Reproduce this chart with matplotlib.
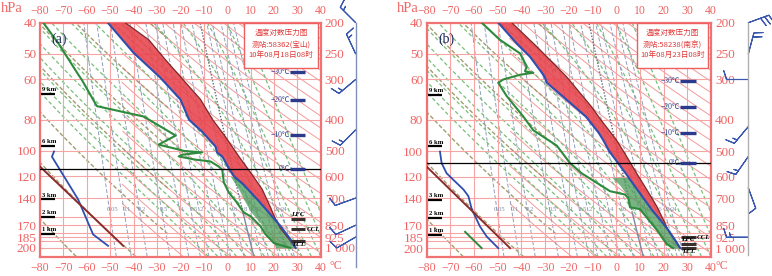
import numpy as np
import matplotlib.pyplot as plt
from matplotlib.ticker import FixedLocator, NullFormatter
from matplotlib.patches import Rectangle

plt.rcParams['font.family'] = ['Liberation Serif', 'Noto Sans CJK SC', 'DejaVu Sans']

W, H = 772, 276

# =========================
# AXIS SETUP
# =========================
t_ticks = list(range(-80, 41, 10))
t_labels = [str(t).replace('-', '\u2212') for t in t_ticks]
p_ticks = [200, 250, 300, 400, 500, 600, 700, 850, 925, 1000]
p_right = ['200', '250', '300', '400', '500', '600', '700', '850', '925', '1 000']
p_left = ['40', '50', '60', '80', '100', '120', '140', '170', '185', '200']
p_extra = [800, 900, 950]
P_TOP, P_BOT = 200, 1063

# background families
theta_olive = [205, 230, 255, 280, 305, 330, 355, 380]
theta_red = list(range(250, 530, 10))
moist_start = list(range(-8, 50, 4))
mix_w = [0.05, 0.1, 0.2, 0.5, 1, 1.5, 2, 3, 4, 6, 8, 10, 12, 16, 20, 24]
mix_lbl = ['0.05', '0.1', '0.2', '0.5', '1', '1.5', '2', '3', '4', '6', '8', '10', '12', '16', '20', '24']

# =========================
# PANEL (a) DATA  58362 宝山
# =========================
a_T_p = [200, 248, 296, 346, 364, 400, 436, 484, 506, 520, 564, 600, 636, 707, 778, 857, 941, 1000]
a_T = [-51, -40, -28.6, -20, -18.7, -16.3, -10.7, -5, -4.3, -2.1, 0.6, 3, 7, 12.9, 17.9, 22.9, 27.1, 29.3]
a_par_p = [200, 226, 260, 294, 346, 400, 450, 520, 583, 658, 750, 800, 870, 950, 1000]
a_par = [-43.6, -33.5, -26.5, -20, -11.4, -6.2, -0.9, 5, 10, 15, 18.6, 20.2, 22.8, 27, 29.3]
a_Td_p = [200, 232, 290, 301, 363, 391, 422, 448, 478, 495, 500, 505, 514, 520, 532, 539, 559, 572,
          626, 673, 714, 777, 797, 857, 907, 966, 1000]
a_Td = [-78.6, -72.1, -63.6, -62.1, -55.7, -35.7, -28, -22, -29.3, -20.7, -18.6, -10.7, -19.3, -20.7,
        -13.6, -7.1, -3.6, -2.1, -1.4, 0.7, 3.6, 7.1, 10, 14.3, 16.4, 20, 27]
a_fill_p = [600, 659, 707, 770, 838, 900, 966, 1000]
a_fill_T = [1.4, 5, 7.1, 10, 14.3, 16.4, 20, 20.7]
a_aux_blue_p = [502, 521, 707, 908, 985]
a_aux_blue = [-74, -74.9, -63.7, -57.3, -50.9]
a_aux_red_p = [559, 985]
a_aux_red = [-80, -44.4]
a_green2_p = []
a_green2 = []
a_iso_T = ['\u221230\u2103', '\u221220\u2103', '\u221210\u2103', '0\u2103']
a_iso_p = [284, 348, 447, 568]
a_km = ['9 km', '6 km', '3 km', '2 km', '1 km']
a_km_p = [333, 481, 707, 800, 903]
a_lev = ['LFC', 'CCL', 'LCL']
a_lev_p = [812, 875, 952]
a_title = ['温度对数压力图', '测站:58362(宝山)', '10年08月18日08时']
a_barb_p = [200, 250, 300, 430, 700, 850, 925]
a_barb_dir = [315, 335, 230, 225, 250, 245, 240]
a_barb_spd = [6, 6, 6, 6, 4, 4, 4]

# =========================
# PANEL (b) DATA  58238 南京
# =========================
b_T_p = [200, 232, 255, 290, 296, 307, 347, 391, 438, 461, 500, 538, 592, 645, 700, 760, 816, 880, 940, 1000]
b_T = [-49.8, -42, -36.4, -30.8, -30.1, -29.3, -20.9, -12.8, -7.5, -5.6, -3, 0.2, 4.4, 8, 11.5, 15, 18.5, 22, 24.7, 27]
b_par_p = [200, 237, 294, 364, 400, 461, 520, 586, 659, 742, 828, 880, 950, 1000]
b_par = [-44.1, -33.6, -21, -10.5, -6.5, 0, 4.4, 8.6, 12.9, 17.1, 20.3, 21.9, 25, 27]
b_Td_p = [200, 226, 249, 273, 283, 286, 290, 300, 307, 338, 391, 431, 481, 545, 586, 666, 682, 700,
          747, 757, 877, 970, 1000]
b_Td = [-56.8, -49.1, -40.6, -37.8, -38.5, -35, -40.6, -47.7, -49.8, -46.2, -39.2, -35, -25.1, -19.5,
        -14.6, -2.6, 3.7, 5.1, 5.8, 10, 17.1, 21.3, 24]
b_fill_p = [603, 639, 682, 700, 747, 757, 877, 970, 1000]
b_fill_T = [-1.9, 1.6, 4.4, 5.1, 5.8, 10, 17.1, 21.3, 23]
b_aux_blue_p = [502, 545, 586, 658, 690, 757, 857, 920, 1000]
b_aux_blue = [-74.4, -73.7, -71.6, -64.5, -62.4, -61, -57.5, -54.7, -49.8]
b_aux_red_p = [559, 1000]
b_aux_red = [-80, -44.8]
b_green2_p = [890, 1000]
b_green2 = [-63.8, -56.8]
b_iso_T = ['\u221230\u2103', '\u221220\u2103', '\u221210\u2103', '0\u2103']
b_iso_p = [304, 365, 438, 545]
b_km = ['9 km', '6 km', '3 km', '2 km', '1 km']
b_km_p = [335, 483, 707, 806, 908]
b_lev = ['CCL', 'LFC', 'LCL']
b_lev_p = [926, 970, 1000]
b_title = ['温度对数压力图', '测站:58238(南京)', '10年08月23日08时']
b_barb_p = [200, 250, 300, 420, 520, 650, 925]
b_barb_dir = [70, 15, 270, 220, 215, 160, 270]
b_barb_spd = [12, 8, 4, 6, 6, 4, 6]

# =========================
# COLOURS
# =========================
RED_TXT = '#f06464'
GRID = '#f6a5a5'
FRAME = '#f07272'
BLUE = '#2d4fae'
NAVY = '#2b3a8c'

pp = np.geomspace(P_BOT, P_TOP, 240)


def dry_line(theta):
    return theta * (pp / 1000.0) ** 0.2857 - 273.15


def mix_line(w):
    e = w * pp / (622.0 + w)
    l = np.log(e / 6.112)
    return 243.5 * l / (17.67 - l)


def dTdp(T, p):
    tc = T - 273.15
    es = 6.112 * np.exp(17.67 * tc / (tc + 243.5))
    rs = 0.622 * es / (p - es)
    return (287.0 * T + 2.5e6 * rs) / (p * (1004.0 + 2.5e6 ** 2 * rs * 0.622 / (287.0 * T ** 2)))


def moist_line(t0):
    T = t0 + 273.15
    out = [T]
    for i in range(1, len(pp)):
        p = pp[i - 1]
        dp = pp[i] - p
        k1 = dTdp(T, p)
        k2 = dTdp(T + k1 * dp, p + dp)
        T = T + 0.5 * (k1 + k2) * dp
        out.append(T)
    return np.array(out) - 273.15


def on_log(p_src, v_src, p_new):
    return np.interp(np.log(p_new), np.log(p_src), v_src)


fig = plt.figure(figsize=(W / 100, H / 100), dpi=100)


def px_axes(x0, y0, x1, y1):
    return fig.add_axes([x0 / W, 1 - y1 / H, (x1 - x0) / W, (y1 - y0) / H])


def draw_panel(ax, tag, T_p, T, par_p, par, Td_p, Td, fill_p, fill_T,
               aux_b_p, aux_b, aux_r_p, aux_r, g2_p, g2, iso_T, iso_p,
               km, km_p, lev, lev_p, title, box_x0, ccl_right):
    ax.set_yscale('log')
    ax.set_xlim(-80, 40)
    ax.set_ylim(P_BOT, P_TOP)
    ax.set_xticks(t_ticks)
    ax.set_xticklabels(t_labels)
    ax.yaxis.set_major_locator(FixedLocator(p_ticks))
    ax.yaxis.set_minor_locator(FixedLocator(p_extra))
    ax.yaxis.set_minor_formatter(NullFormatter())
    ax.set_yticklabels(p_left)
    ax.tick_params(axis='x', which='both', length=0, top=True, labeltop=True,
                   labelsize=8.5, colors=RED_TXT, pad=4)
    ax.tick_params(axis='y', which='both', length=0, labelsize=9.5, colors=RED_TXT, pad=2.5)
    ax.grid(True, which='both', color=GRID, lw=0.8, zorder=0)
    for s in ax.spines.values():
        s.set_color(FRAME)
        s.set_linewidth(1.6)

    right = ax.twinx()
    right.set_yscale('log')
    right.set_ylim(P_BOT, P_TOP)
    right.yaxis.set_major_locator(FixedLocator(p_ticks))
    right.yaxis.set_minor_locator(FixedLocator([]))
    right.set_yticklabels(p_right)
    right.tick_params(axis='y', length=0, labelsize=9.5, colors=RED_TXT, pad=3)
    for s in right.spines.values():
        s.set_visible(False)

    # background lines
    for th in theta_red:
        t = dry_line(th)
        t[t < -45] = np.nan
        ax.plot(t, pp, color='#f39a9a', lw=0.7, zorder=1)
    for th in theta_olive:
        t = dry_line(th)
        t[t > -25] = np.nan
        ax.plot(t, pp, color='#a39c70', lw=1.0, ls=(0, (3, 1.5)), zorder=1)
    for t0 in moist_start:
        ax.plot(moist_line(t0), pp, color='#78bf7a', lw=0.9, ls=(0, (3, 2)), zorder=1)
    for w, lb in zip(mix_w, mix_lbl):
        t = mix_line(w)
        if w == 8:
            up = pp <= 780
            ax.plot(t[up], pp[up], color='#5c6a80', lw=1.0, ls=(0, (1, 1.2)), zorder=2)
            ax.plot(t[~up], pp[~up], color='#7a8aa6', lw=1.0, zorder=2)
        else:
            ax.plot(t, pp, color='#8f9fba', lw=0.7, ls=(0, (4, 2)), zorder=1)
        ax.text(on_log(pp[::-1], t[::-1], [760])[0] + 1.2, 760, lb, fontsize=4.8,
                color='#7f8da6', ha='center', va='center', zorder=2)

    # fills
    pg = np.geomspace(P_TOP, 1000, 500)
    Ti = on_log(T_p, T, pg)
    Pi = on_log(par_p, par, pg)
    ax.fill_betweenx(pg, Ti, Pi, where=Pi > Ti, interpolate=True,
                     color='#e8434c', alpha=0.88, lw=0, zorder=3)
    pf = np.geomspace(fill_p[0], 1000, 200)
    ax.fill_betweenx(pf, on_log(fill_p, fill_T, pf), on_log(T_p, T, pf),
                     color='#4a9a5a', alpha=0.75, lw=0, zorder=3)

    # profiles
    ax.plot(par, par_p, color='#7a2a2a', lw=0.9, zorder=4)
    ax.plot(T, T_p, color=BLUE, lw=1.5, zorder=5)
    ax.plot(Td, Td_p, color='#2e8a3c', lw=1.5, zorder=5)
    ax.plot(aux_b, aux_b_p, color=BLUE, lw=1.3, zorder=5)
    ax.plot(aux_r, aux_r_p, color='#8b2c2c', lw=1.4, zorder=5)
    if g2:
        ax.plot(g2, g2_p, color='#2e8a3c', lw=1.4, zorder=5)

    # 0 C level line and isotherm level marks
    ax.axhline(iso_p[-1], color='black', lw=0.9, zorder=6)
    for lb, p in zip(iso_T, iso_p):
        ax.plot([27, 33.5], [p, p], color=NAVY, lw=2.4, solid_capstyle='butt', zorder=7)
        ax.text(26.8, p, lb, fontsize=5.5, color=NAVY, ha='right', va='center', zorder=7)

    # height marks
    for lb, p in zip(km, km_p):
        ax.plot([-79.6, -73.4], [p, p], color='black', lw=1.6, solid_capstyle='butt', zorder=7,
                clip_on=False)
        ax.text(-79.2, p / 1.012, lb, fontsize=4.8, fontweight='bold', color='black',
                ha='left', va='bottom', zorder=7)

    # LFC / CCL / LCL marks
    for lb, p in zip(lev, lev_p):
        ax.plot([27.3, 33.5], [p, p], color='#3a3030', lw=2.2, solid_capstyle='butt', zorder=7)
        if lb == 'CCL':
            ax.text(ccl_right, p, lb, fontsize=5, style='italic', fontweight='bold',
                    ha='left', va='center', zorder=7)
        elif lb == 'LFC':
            ax.text(30.4, p / 1.015, lb, fontsize=5, style='italic', fontweight='bold',
                    ha='center', va='bottom', zorder=7)
        else:
            ax.text(30.4, p * 1.008, lb, fontsize=5, style='italic', fontweight='bold',
                    ha='center', va='top', zorder=7)

    # info box
    ax.add_patch(Rectangle((box_x0, 0.805), 0.99 - box_x0, 0.195, transform=ax.transAxes,
                           facecolor='white', edgecolor='#ee6060', lw=1.0, zorder=8))
    cx = (box_x0 + 0.99) / 2
    for s, yy in zip(title, [0.955, 0.905, 0.862]):
        ax.text(cx, yy, s, transform=ax.transAxes, fontsize=5.5, color='#e03838',
                family=['Noto Sans CJK SC'], ha='center', va='center', zorder=9)
    ax.text(0.04, 0.93, tag, transform=ax.transAxes, fontsize=10, color='#1a2a5a',
            ha='left', va='center', zorder=9)


def draw_barbs(bax, xline, p, d, s, line_color, p_end):
    bax.set_yscale('log')
    bax.set_ylim(P_BOT, P_TOP)
    bax.set_xlim(0, 60)
    bax.axis('off')
    bax.plot([xline, xline], [P_TOP, p_end], color=line_color, lw=1.0, clip_on=False)
    d = np.radians(d)
    s = np.array(s, dtype=float)
    u = -s * np.sin(d)
    v = -s * np.cos(d)
    bax.barbs(np.full(len(p), xline), p, u, v, length=5.6, color='#3b58b0', lw=0.8,
              barb_increments=dict(half=2, full=4, flag=20),
              sizes=dict(emptybarb=0, spacing=0.2, height=0.4), clip_on=False)


axA = px_axes(40, 22.7, 320.7, 256.5)
draw_panel(axA, '(a)', a_T_p, a_T, a_par_p, a_par, a_Td_p, a_Td, a_fill_p, a_fill_T,
           a_aux_blue_p, a_aux_blue, a_aux_red_p, a_aux_red, a_green2_p, a_green2,
           a_iso_T, a_iso_p, a_km, a_km_p, a_lev, a_lev_p, a_title, 0.727, 34.0)
axB = px_axes(426.7, 22.7, 711, 256.7)
draw_panel(axB, '(b)', b_T_p, b_T, b_par_p, b_par, b_Td_p, b_Td, b_fill_p, b_fill_T,
           b_aux_blue_p, b_aux_blue, b_aux_red_p, b_aux_red, b_green2_p, b_green2,
           b_iso_T, b_iso_p, b_km, b_km_p, b_lev, b_lev_p, b_title, 0.741, 34.0)

barbA = px_axes(330, 22.7, 390, 256.5)
draw_barbs(barbA, 25.7, a_barb_p, a_barb_dir, a_barb_spd, '#8090b8', 1146)
barbB = px_axes(710, 22.7, 770, 256.7)
draw_barbs(barbB, 38.3, b_barb_p, b_barb_dir, b_barb_spd, '#b0b0b0', 1050)

# unit labels
for x0 in [0, 396]:
    fig.text((x0 + 1) / W, 1 - 8 / H, 'hPa', fontsize=10.5, color=RED_TXT, ha='left', va='center')
for x0 in [329, 716]:
    fig.text(x0 / W, 1 - 266 / H, '°C', fontsize=8.5, color=RED_TXT, ha='left', va='center')

fig.savefig('out.png', dpi=100)
